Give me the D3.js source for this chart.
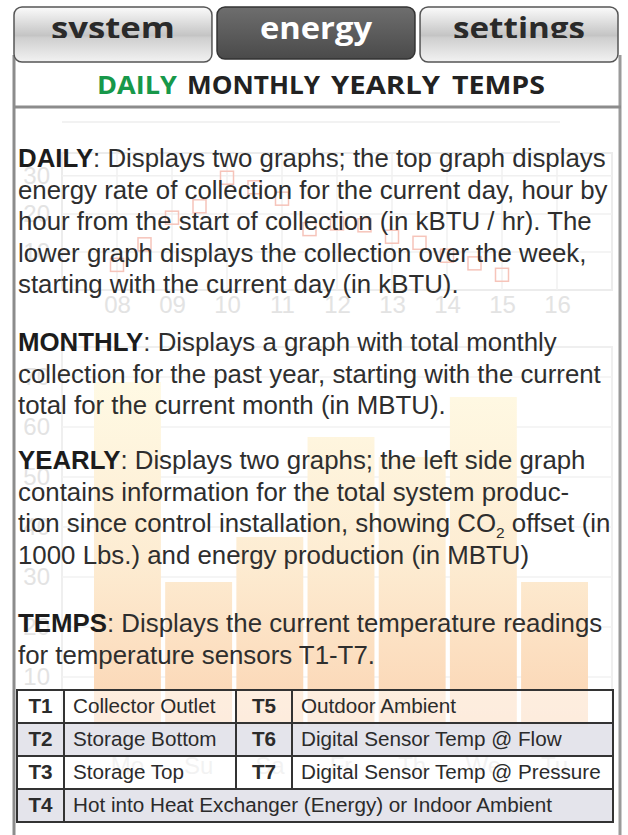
<!DOCTYPE html>
<html>
<head>
<meta charset="utf-8">
<script src="https://cdn.jsdelivr.net/npm/d3@7"></script>
<style>
  body { margin: 0; background: #fff; }
  svg { display: block; }
</style>
</head>
<body>
<div id="page"></div>
<script>
// faded top graph: rate of collection, kBTU / hr, every half hour
const hours = [8, 8.5, 9, 9.5, 10, 10.5, 11, 11.5, 12, 12.5, 13, 13.5, 14, 14.5, 15];
const rates = [6.6, 12, 19, 22, 29.5, 27, 24, 16, 17.5, 17, 14, 12.4, 9, 7, 4];
const hourTicks = ["08", "09", "10", "11", "12", "13", "14", "15", "16"];
const rateTicks = [10, 20, 30];

// faded lower graph: collection over the week, kBTU
const days = ["Mo", "Su", "Sa", "Fr", "Th", "We", "Tu"];
const dayTotals = [69, 29, 38, 58, 54, 66, 29];
const totalTicks = [10, 20, 30, 40, 50, 60, 70];

const tabs = ["system", "energy", "settings"];
const menu = ["DAILY", "MONTHLY", "YEARLY", "TEMPS"];

const paragraphs = [
  ["DAILY", ": Displays two graphs; the top graph displays",
   "energy rate of collection for the current day, hour by",
   "hour from the start of collection (in kBTU / hr).  The",
   "lower graph displays the collection over the week,",
   "starting with the current day (in kBTU)."],
  ["MONTHLY", ": Displays a graph with total monthly",
   "collection for the past year, starting with the current",
   "total for the current month (in MBTU)."],
  ["YEARLY", ": Displays two graphs; the left side graph",
   "contains information for the total system produc-",
   "tion since control installation, showing CO_2 offset (in",
   "1000 Lbs.) and energy production (in MBTU)"],
  ["TEMPS", ": Displays the current temperature readings",
   "for temperature sensors T1-T7."]
];
const paraTop = [167, 351, 469, 632];

const sensorRows = [
  ["T1", "Collector Outlet", "T5", "Outdoor Ambient"],
  ["T2", "Storage Bottom", "T6", "Digital Sensor Temp @ Flow"],
  ["T3", "Storage Top", "T7", "Digital Sensor Temp @ Pressure"],
  ["T4", "Hot into Heat Exchanger (Energy) or Indoor Ambient"]
];

const W = 628, H = 835;
const textFont = "'Liberation Sans', Arial, sans-serif";
const tabFont = "'Open Sans', 'Liberation Sans', sans-serif";

const svg = d3.select("#page").append("svg")
  .attr("width", W)
  .attr("height", H);

const defs = svg.append("defs");

const tabGrad = defs.append("linearGradient").attr("id", "tabGrad")
  .attr("x1", 0).attr("y1", 0).attr("x2", 0).attr("y2", 1);
tabGrad.append("stop").attr("offset", "0%").attr("stop-color", "#fbfbfb");
tabGrad.append("stop").attr("offset", "52%").attr("stop-color", "#c4c4c4");
tabGrad.append("stop").attr("offset", "56%").attr("stop-color", "#cfcfcf");
tabGrad.append("stop").attr("offset", "100%").attr("stop-color", "#f2f2f2");

const darkGrad = defs.append("linearGradient").attr("id", "darkGrad")
  .attr("x1", 0).attr("y1", 0).attr("x2", 0).attr("y2", 1);
darkGrad.append("stop").attr("offset", "0%").attr("stop-color", "#6e6e6e");
darkGrad.append("stop").attr("offset", "100%").attr("stop-color", "#4a4a4a");

const barGrad = defs.append("linearGradient").attr("id", "barGrad")
  .attr("gradientUnits", "userSpaceOnUse")
  .attr("x1", 0).attr("y1", 360).attr("x2", 0).attr("y2", 727);
barGrad.append("stop").attr("offset", "0%").attr("stop-color", "#fffbe6");
barGrad.append("stop").attr("offset", "55%").attr("stop-color", "#fdecd2");
barGrad.append("stop").attr("offset", "100%").attr("stop-color", "#fbd4b2");

defs.append("clipPath").attr("id", "tabClip")
  .append("rect").attr("x", 0).attr("y", 0).attr("width", W).attr("height", 38);

// ---------- faded hourly graph ----------
const x1 = d3.scaleLinear().domain([7, 17]).range([62, 612]);
const y1 = d3.scaleLinear().domain([0, 36]).range([290, 153]);

const g1 = svg.append("g");
g1.append("rect")
  .attr("x", x1(7)).attr("y", y1(36))
  .attr("width", x1(17) - x1(7)).attr("height", y1(0) - y1(36))
  .attr("fill", "none").attr("stroke", "#ececec").attr("stroke-width", 2);
g1.selectAll(".vgrid").data(hourTicks).enter().append("line")
  .attr("x1", d => x1(+d)).attr("x2", d => x1(+d))
  .attr("y1", y1(36)).attr("y2", y1(0))
  .attr("stroke", "#f0f0f0").attr("stroke-width", 1.5);
g1.selectAll(".hgrid").data(rateTicks).enter().append("line")
  .attr("x1", x1(7)).attr("x2", x1(17))
  .attr("y1", d => y1(d)).attr("y2", d => y1(d))
  .attr("stroke", "#f0f0f0").attr("stroke-width", 1.5);

const axis1x = g1.append("g").attr("transform", `translate(0,${y1(0)})`)
  .call(d3.axisBottom(x1).tickValues(hourTicks.map(Number))
    .tickFormat(d => String(d).padStart(2, "0")).tickSize(0).tickPadding(6));
const axis1y = g1.append("g").attr("transform", `translate(${x1(7)},0)`)
  .call(d3.axisLeft(y1).tickValues(rateTicks).tickSize(0).tickPadding(12));
[axis1x, axis1y].forEach(a => {
  a.select(".domain").remove();
  a.selectAll("text").attr("fill", "#e3e3e3")
    .attr("font-family", textFont).attr("font-size", 24);
});

g1.selectAll(".pt").data(hours).enter().append("rect")
  .attr("x", (d) => x1(d) - 6.5)
  .attr("y", (d, i) => y1(rates[i]) - 6.5)
  .attr("width", 13).attr("height", 13)
  .attr("fill", "none").attr("stroke", "#f6c4ba").attr("stroke-width", 1.5);

// faint line above the graph
svg.append("line").attr("x1", 62).attr("x2", 560).attr("y1", 122).attr("y2", 122)
  .attr("stroke", "#f2f2f2").attr("stroke-width", 2);

// ---------- faded weekly bar graph ----------
const x2 = d3.scaleBand().domain(days).range([94, 588]).paddingInner(0.06);
const y2 = d3.scaleLinear().domain([0, 76]).range([727, 347]);

const g2 = svg.append("g");
g2.append("rect")
  .attr("x", 62).attr("y", y2(76))
  .attr("width", 550).attr("height", y2(0) - y2(76))
  .attr("fill", "none").attr("stroke", "#efefef").attr("stroke-width", 2);
g2.selectAll(".hgrid").data(totalTicks).enter().append("line")
  .attr("x1", 62).attr("x2", 612)
  .attr("y1", d => y2(d)).attr("y2", d => y2(d))
  .attr("stroke", "#f2f2f2").attr("stroke-width", 1.5);
g2.selectAll(".bar").data(days).enter().append("rect")
  .attr("x", d => x2(d))
  .attr("y", (d, i) => y2(dayTotals[i]))
  .attr("width", x2.bandwidth())
  .attr("height", (d, i) => y2(0) - y2(dayTotals[i]))
  .attr("fill", "url(#barGrad)");

const axis2x = g2.append("g").attr("transform", `translate(0,${y2(0)})`)
  .call(d3.axisBottom(x2).tickSize(0).tickPadding(30));
const axis2y = g2.append("g").attr("transform", "translate(62,0)")
  .call(d3.axisLeft(y2).tickValues(totalTicks).tickSize(0).tickPadding(12));
[axis2x, axis2y].forEach(a => {
  a.select(".domain").remove();
  a.selectAll("text").attr("fill", "#e3e3e3")
    .attr("font-family", textFont).attr("font-size", 24);
});

// ---------- frame ----------
svg.append("line").attr("x1", 14).attr("x2", 14).attr("y1", 55).attr("y2", H)
  .attr("stroke", "#8c8c8c").attr("stroke-width", 3);
svg.append("line").attr("x1", 620).attr("x2", 620).attr("y1", 55).attr("y2", H)
  .attr("stroke", "#9a9a9a").attr("stroke-width", 3);
svg.append("line").attr("x1", 14).attr("x2", 621).attr("y1", 107).attr("y2", 107)
  .attr("stroke", "#8c8c8c").attr("stroke-width", 3);

// ---------- tabs ----------
const tabX = d3.scaleBand().domain(tabs).range([14, 618]).paddingInner(0.025);
const tabW = {system: 124, energy: 112, settings: 132};
const tabG = svg.selectAll(".tab").data(tabs).enter().append("g");
tabG.append("rect")
  .attr("x", d => tabX(d)).attr("y", 7)
  .attr("width", tabX.bandwidth()).attr("height", d => d === "energy" ? 52 : 55)
  .attr("rx", 8)
  .attr("fill", d => d === "energy" ? "url(#darkGrad)" : "url(#tabGrad)")
  .attr("stroke", d => d === "energy" ? "#333" : "#555")
  .attr("stroke-width", 1.5);
tabG.append("text")
  .attr("x", d => tabX(d) + tabX.bandwidth() / 2)
  .attr("y", 39)
  .attr("text-anchor", "middle")
  .attr("clip-path", d => d === "energy" ? null : "url(#tabClip)")
  .attr("font-family", tabFont).attr("font-weight", 700).attr("font-size", 31)
  .attr("textLength", d => tabW[d]).attr("lengthAdjust", "spacingAndGlyphs")
  .attr("fill", d => d === "energy" ? "#fff" : "#2a2a2a")
  .text(d => d);

// ---------- menu ----------
const menuX = {DAILY: 97, MONTHLY: 187, YEARLY: 331, TEMPS: 452};
const menuW = {DAILY: 80, MONTHLY: 133, YEARLY: 109, TEMPS: 93};
svg.selectAll(".menu").data(menu).enter().append("text")
  .attr("x", d => menuX[d]).attr("y", 94)
  .attr("font-family", tabFont).attr("font-weight", 700).attr("font-size", 25)
  .attr("textLength", d => menuW[d]).attr("lengthAdjust", "spacingAndGlyphs")
  .attr("fill", (d, i) => i === 0 ? "#17984a" : "#222")
  .text(d => d);

// ---------- body text ----------
const probe = svg.append("text").attr("font-family", textFont).attr("font-size", 25)
  .text(paragraphs[0][2]);
const kx = 590 / probe.node().getComputedTextLength();
probe.remove();

const lineH = 31.6;
paragraphs.forEach((p, pi) => {
  p.slice(1).forEach((line, li) => {
    const t = svg.append("text")
      .attr("transform", `translate(18,${paraTop[pi] + li * lineH}) scale(${kx},1)`)
      .attr("font-family", textFont).attr("font-size", 25).attr("fill", "#2e2e2e");
    if (li === 0) {
      t.append("tspan").attr("font-weight", 700).attr("fill", "#1c1c1c").text(p[0]);
    }
    const parts = line.split("_2");
    t.append("tspan").text(parts[0]);
    if (parts.length > 1) {
      t.append("tspan").attr("font-size", 15).attr("dy", 6).text("2");
      t.append("tspan").attr("dy", -6).text(parts[1]);
    }
  });
});

// ---------- sensor table ----------
const colX = [17, 64, 236, 292, 613];
const rowY = d3.scaleBand().domain(d3.range(sensorRows.length)).range([690, 822]);
const tbl = svg.append("g");
sensorRows.forEach((row, ri) => {
  tbl.append("rect")
    .attr("x", colX[0]).attr("y", rowY(ri))
    .attr("width", colX[4] - colX[0]).attr("height", rowY.bandwidth())
    .attr("fill", ri % 2 ? "#e3e3ea" : "#ffffff")
    .attr("fill-opacity", ri % 2 ? 0.95 : 0.55);
  const cells = row.length === 4 ? [0, 1, 2, 3] : [0, 1];
  cells.forEach(ci => {
    tbl.append("text")
      .attr("transform", `translate(${colX[ci] + (ci % 2 ? 9 : 0) + (ci % 2 ? 0 : (colX[ci + 1] - colX[ci]) / 2)},${rowY(ri) + 23}) scale(${kx},1)`)
      .attr("text-anchor", ci % 2 ? "start" : "middle")
      .attr("font-family", textFont).attr("font-size", 20)
      .attr("font-weight", ci % 2 ? 400 : 700)
      .attr("fill", "#2b2b2b")
      .text(row[ci]);
  });
  tbl.append("line").attr("x1", colX[0]).attr("x2", colX[4])
    .attr("y1", rowY(ri)).attr("y2", rowY(ri))
    .attr("stroke", "#333").attr("stroke-width", 2);
  const seps = row.length === 4 ? [1, 2, 3] : [1];
  seps.forEach(ci => {
    tbl.append("line").attr("x1", colX[ci]).attr("x2", colX[ci])
      .attr("y1", rowY(ri)).attr("y2", rowY(ri) + rowY.bandwidth())
      .attr("stroke", "#333").attr("stroke-width", 2);
  });
});
tbl.append("rect")
  .attr("x", colX[0]).attr("y", 690)
  .attr("width", colX[4] - colX[0]).attr("height", 132)
  .attr("fill", "none").attr("stroke", "#333").attr("stroke-width", 2);
</script>
</body>
</html>
